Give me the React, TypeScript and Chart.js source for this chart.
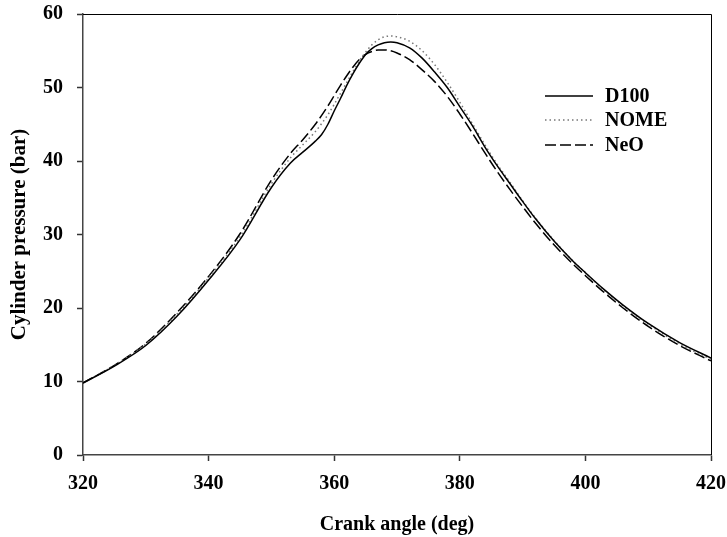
import React, { useEffect, useRef } from "react";
import { Chart, registerables } from "chart.js";

Chart.register(...registerables);

const angles = [320, 325, 330, 335, 340, 345, 350, 353, 355, 357, 358, 359, 360, 361, 362, 363, 364, 365, 366, 367, 368, 369, 370, 372, 374, 376, 378, 380, 382, 384, 386, 388, 390, 392, 395, 398, 400, 403, 406, 410, 415, 420];

const d100 = [9.8, 12.1, 14.9, 18.9, 23.8, 29.3, 36.4, 39.7, 41.2, 42.7, 43.6, 45.0, 46.8, 48.5, 50.3, 51.9, 53.3, 54.5, 55.3, 55.8, 56.1, 56.2, 56.1, 55.4, 54.0, 52.1, 50.0, 47.4, 44.8, 41.9, 39.3, 36.9, 34.5, 32.2, 29.1, 26.4, 24.8, 22.5, 20.4, 17.9, 15.3, 13.2];

const nome = [9.8, 12.2, 15.1, 19.2, 24.1, 29.7, 36.9, 40.4, 42.2, 44.0, 45.1, 46.3, 47.7, 49.2, 50.7, 52.2, 53.6, 54.8, 55.8, 56.5, 56.9, 57.0, 56.9, 56.3, 55.0, 53.1, 50.7, 48.0, 45.1, 42.2, 39.5, 37.1, 34.6, 32.3, 29.2, 26.4, 24.8, 22.4, 20.3, 17.8, 15.1, 13.0];

const neo = [9.8, 12.2, 15.2, 19.4, 24.3, 30.1, 37.4, 41.0, 42.9, 45.0, 46.2, 47.5, 48.9, 50.3, 51.6, 52.8, 53.8, 54.5, 54.9, 55.1, 55.1, 55.0, 54.7, 53.8, 52.4, 50.8, 48.8, 46.4, 43.8, 41.1, 38.5, 36.1, 33.8, 31.6, 28.6, 26.0, 24.4, 22.1, 20.0, 17.5, 14.9, 12.8];

const seriesNames = ["D100", "NOME", "NeO"];
const xTicks = [320, 340, 360, 380, 400, 420];
const yTicks = [0, 10, 20, 30, 40, 50, 60];

const FONT = '"Liberation Serif", "Times New Roman", serif';

const styles = [
  { color: "#000", width: 1.5, dash: [] as number[] },
  { color: "#777", width: 1.5, dash: [1.5, 3] },
  { color: "#000", width: 1.5, dash: [11, 4] },
];

export default function App() {
  const ref = useRef<HTMLCanvasElement>(null);
  useEffect(() => {
    document.body.style.margin = "0";
    const canvas = ref.current!;
    const allSeries = [d100, nome, neo];
    const boxPlugin = {
      id: "boxAndLegend",
      afterDraw(chart: any) {
        const { ctx, chartArea } = chart;
        ctx.save();
        ctx.strokeStyle = "#000";
        ctx.lineWidth = 1;
        ctx.beginPath();
        ctx.moveTo(chartArea.left, chartArea.top + 0.5);
        ctx.lineTo(chartArea.right + 0.5, chartArea.top + 0.5);
        ctx.lineTo(chartArea.right + 0.5, chartArea.bottom);
        ctx.stroke();
        const lx0 = 545, lx1 = 593, tx = 605;
        const rows = [96, 120, 145];
        ctx.font = `bold 20px ${FONT}`;
        ctx.textBaseline = "middle";
        ctx.textAlign = "left";
        seriesNames.forEach((name, i) => {
          const s = styles[i];
          ctx.strokeStyle = s.color;
          ctx.lineWidth = s.width;
          ctx.setLineDash(s.dash);
          ctx.beginPath();
          ctx.moveTo(lx0, rows[i]);
          ctx.lineTo(lx1, rows[i]);
          ctx.stroke();
          ctx.setLineDash([]);
          ctx.fillStyle = "#000";
          ctx.fillText(name, tx, rows[i] + 1);
        });
        ctx.restore();
      },
    };
    const chart = new Chart(canvas, {
      type: "line",
      data: {
        datasets: allSeries.map((vals, i) => ({
          label: seriesNames[i],
          data: angles.map((a, j) => ({ x: a, y: vals[j] })),
          borderColor: styles[i].color,
          borderWidth: styles[i].width,
          borderDash: styles[i].dash,
          pointRadius: 0,
          fill: false,
          cubicInterpolationMode: "monotone" as const,
        })),
      },
      options: {
        responsive: false,
        animation: false,
        layout: { padding: { top: 14, right: 16, left: 0, bottom: 0 } },
        plugins: { legend: { display: false }, tooltip: { enabled: false } },
        scales: {
          x: {
            type: "linear",
            min: 320,
            max: 420,
            afterBuildTicks: (s: any) => {
              s.ticks = xTicks.map((v) => ({ value: v }));
            },
            afterFit: (s: any) => {
              s.height = 82;
              s.paddingLeft = 0;
              s.paddingRight = 0;
            },
            ticks: { color: "#000", font: { family: FONT, size: 20, weight: "bold" }, padding: 11, maxRotation: 0 },
            grid: { drawOnChartArea: false, drawTicks: true, tickLength: 6, tickColor: "#333", tickWidth: 1.5 },
            border: { color: "#444", width: 1.5 },
            title: {
              display: true,
              text: "Crank angle (deg)",
              color: "#000",
              font: { family: FONT, size: 20, weight: "bold" },
              padding: { top: 0, bottom: 0 },
            },
          },
          y: {
            min: 0,
            max: 60,
            afterBuildTicks: (s: any) => {
              s.ticks = yTicks.map((v) => ({ value: v }));
            },
            afterFit: (s: any) => {
              s.width = 83;
              s.paddingTop = 0;
              s.paddingBottom = 0;
            },
            ticks: { color: "#000", font: { family: FONT, size: 20, weight: "bold" }, padding: 14 },
            grid: { drawOnChartArea: false, drawTicks: true, tickLength: 6, tickColor: "#333", tickWidth: 1.5 },
            border: { color: "#444", width: 1.5 },
            title: {
              display: true,
              text: "Cylinder pressure (bar)",
              color: "#000",
              font: { family: FONT, size: 21, weight: "bold" },
              padding: { top: 7, bottom: 0 },
            },
          },
        },
      },
      plugins: [boxPlugin],
    });
    return () => chart.destroy();
  }, []);
  return (
    <div style={{ width: 727, height: 537 }}>
      <canvas ref={ref} width={727} height={537} />
    </div>
  );
}
